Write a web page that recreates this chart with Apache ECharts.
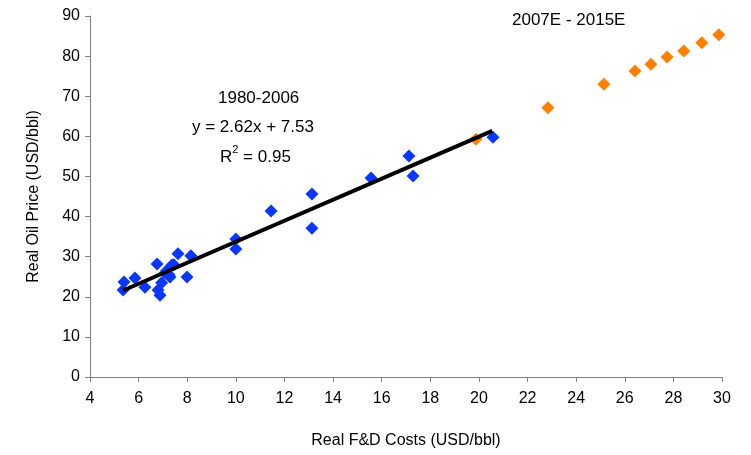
<!DOCTYPE html>
<html>
<head>
<meta charset="utf-8">
<script src="https://cdn.jsdelivr.net/npm/echarts@6/dist/echarts.min.js"></script>
<style>
  html, body { margin: 0; padding: 0; background: #fff; }
  #chart { width: 751px; height: 455px; }
</style>
</head>
<body>
<div id="chart"></div>
<script>
// 1980-2006 actuals: F&D cost vs oil price
var histCost = [5.40, 5.36, 5.85, 6.26, 6.76, 6.80, 6.88, 7.09, 7.29, 7.37, 7.62, 7.99, 8.15,
                6.95, 7.15, 7.25, 7.45,
                10.0, 10.0, 11.45, 13.13, 13.13, 15.56, 17.12, 17.29, 20.58];
var histPrice = [23.7, 21.7, 24.7, 22.4, 28.2, 21.7, 20.4, 25.9, 24.9, 27.9, 30.7, 24.9, 30.2,
                 23.5, 26.5, 25.5, 28.0,
                 34.4, 31.9, 41.4, 45.6, 37.1, 49.6, 55.1, 50.1, 59.8];

// 2007E-2015E estimates
var estCost = [19.88, 22.84, 25.14, 26.42, 27.08, 27.74, 28.43, 29.17, 29.87];
var estPrice = [59.3, 67.1, 73.0, 76.3, 78.0, 79.8, 81.3, 83.3, 85.3];

// fitted trend y = 2.62x + 7.53
var trendSlope = 2.62;
var trendIntercept = 7.53;
var trendX = [5.36, 20.55];

var xTicks = [4, 30, 2];
var yTicks = [0, 90, 10];

var pairs = function (xs, ys) {
    var out = [];
    for (var i = 0; i < xs.length; i++) {
        out.push([xs[i], ys[i]]);
    }
    return out;
};

var myChart = echarts.init(document.getElementById('chart'));

var option = {
    backgroundColor: '#fff',
    animation: false,
    textStyle: { fontFamily: 'Liberation Sans, Arial, sans-serif' },
    grid: { left: 90, right: 29, top: 16, bottom: 78 },
    xAxis: {
        type: 'value',
        min: xTicks[0], max: xTicks[1], interval: xTicks[2],
        name: 'Real F&D Costs (USD/bbl)',
        nameLocation: 'middle',
        nameGap: 56,
        nameTextStyle: { fontSize: 16, color: '#000' },
        axisLine: { show: true, lineStyle: { color: '#808080', width: 1 } },
        axisTick: { show: true, length: 5, lineStyle: { color: '#808080' } },
        axisLabel: { fontSize: 16, color: '#000', margin: 14 },
        splitLine: { show: false }
    },
    yAxis: {
        type: 'value',
        min: yTicks[0], max: yTicks[1], interval: yTicks[2],
        name: 'Real Oil Price (USD/bbl)',
        nameLocation: 'middle',
        nameGap: 48,
        nameTextStyle: { fontSize: 16, color: '#000' },
        axisLine: { show: true, lineStyle: { color: '#808080', width: 1 } },
        axisTick: { show: true, length: 5, lineStyle: { color: '#808080' } },
        axisLabel: { fontSize: 16, color: '#000', margin: 10 },
        splitLine: { show: false }
    },
    series: [
        {
            name: '2007E - 2015E',
            type: 'scatter',
            symbol: 'diamond',
            symbolSize: 13,
            itemStyle: { color: '#ff8000', opacity: 1 },
            data: pairs(estCost, estPrice),
            z: 2
        },
        {
            name: '1980-2006',
            type: 'scatter',
            symbol: 'diamond',
            symbolSize: 13,
            itemStyle: { color: '#0a37ff', opacity: 1 },
            data: pairs(histCost, histPrice),
            z: 3
        },
        {
            name: 'trend',
            type: 'line',
            showSymbol: false,
            symbol: 'none',
            lineStyle: { color: '#000', width: 4 },
            data: [
                [trendX[0], trendSlope * trendX[0] + trendIntercept],
                [trendX[1], trendSlope * trendX[1] + trendIntercept]
            ],
            z: 4
        }
    ],
    graphic: [
        {
            type: 'text', left: 218, top: 90,
            style: { text: '1980-2006', fontSize: 17, fill: '#000', fontFamily: 'Liberation Sans, Arial' }
        },
        {
            type: 'text', left: 192, top: 119,
            style: { text: 'y = 2.62x + 7.53', fontSize: 17, fill: '#000', fontFamily: 'Liberation Sans, Arial' }
        },
        {
            type: 'text', left: 220, top: 144,
            style: {
                text: '{a|R}{s|2}{a| = 0.95}',
                fill: '#000',
                rich: {
                    a: { fontSize: 17, fontFamily: 'Liberation Sans, Arial', verticalAlign: 'bottom', lineHeight: 22 },
                    s: { fontSize: 11, fontFamily: 'Liberation Sans, Arial', verticalAlign: 'top', lineHeight: 22, padding: [0, 0, 6, 0] }
                }
            }
        },
        {
            type: 'text', left: 512, top: 12,
            style: { text: '2007E - 2015E', fontSize: 17, fill: '#000', fontFamily: 'Liberation Sans, Arial' }
        }
    ]
};

myChart.setOption(option);
</script>
</body>
</html>
